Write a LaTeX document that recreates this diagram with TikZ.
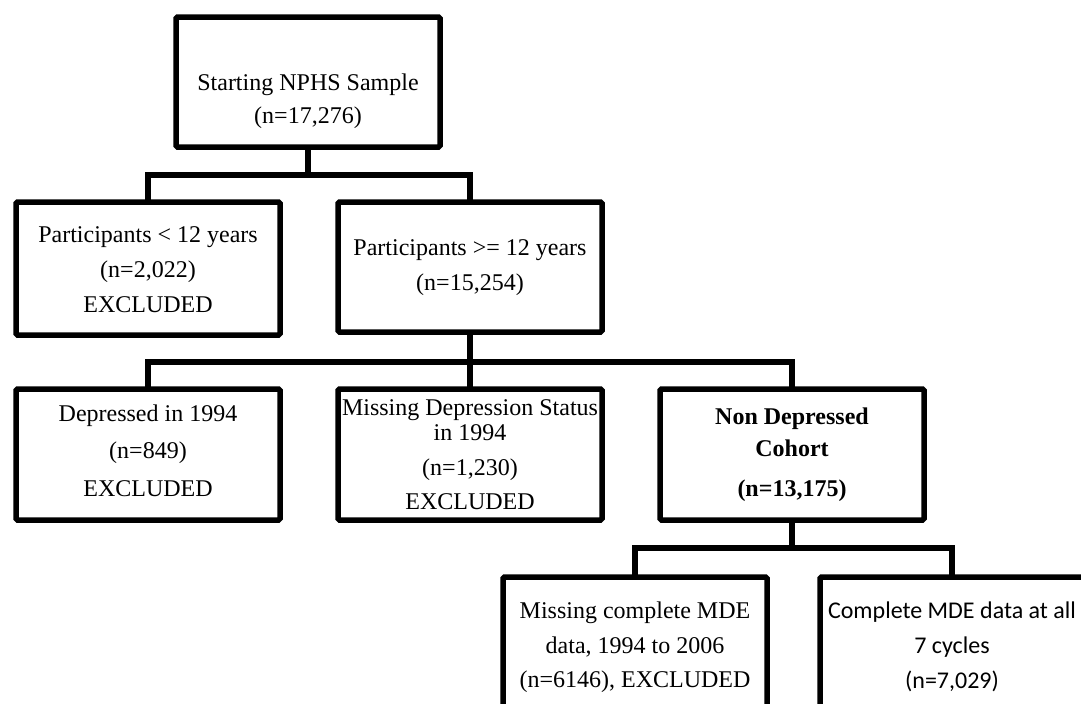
\documentclass[tikz,border=0pt]{standalone}
\usepackage{fontspec}
\setmainfont{Liberation Serif}
\newfontfamily\cohortsans{Carlito}
\usepackage{tikz}

\tikzset{
  box/.style={draw, line width=2.75pt, minimum width=132pt, inner sep=0pt, outer sep=0pt, rounded corners=0.8pt},
  txt/.style={align=center, anchor=base, inner sep=0pt, font=\fontsize{12}{17.5}\selectfont},
  conn/.style={line width=2.6pt},
}

\begin{document}
\begin{tikzpicture}[x=0.5pt, y=-0.5pt]
    % Canvas
    \clip (0,0) rectangle (1081,703);
    \fill[white] (0,0) rectangle (1081,703);

    % Boxes
    \node[box, minimum height=65pt] (start) at (308,82) {};
    \node[box, minimum height=66.5pt] (young) at (148,268.5) {};
    \node[box, minimum height=65pt] (old) at (470,267) {};
    \node[box, minimum height=65.5pt] (depr) at (148,454.5) {};
    \node[box, minimum height=65.5pt] (miss) at (470,454.5) {};
    \node[box, minimum height=65.5pt] (cohort) at (792,454.5) {};
    \node[box, minimum height=80pt] (mde) at (635,657) {};
    \node[box, minimum height=80pt] (full) at (952,657) {};

    % Texts (placed by the baseline of their last line)
    \node[txt] (start-t) at (308,123) {Starting NPHS Sample\\[-1pt](n=17,276)};
    \node[txt] (young-t) at (148,312) {Participants < 12 years\\(n=2,022)\\EXCLUDED};
    \node[txt] (old-t) at (470,290) {Participants >= 12 years\\(n=15,254)};
    \node[txt] (depr-t) at (148,496) {Depressed in 1994\\[1.25pt](n=849)\\[1.25pt]EXCLUDED};
    \node[txt] (miss-t) at (470,509) {Missing Depression Status\\[-5pt]in 1994\\(n=1,230)\\[-0.5pt]EXCLUDED};
    \node[txt, font=\fontsize{12}{17.5}\selectfont\bfseries] (cohort-t) at (792,496) {Non Depressed\\[-1.5pt]Cohort\\[2.5pt](n=13,175)};
    \node[txt] (mde-t) at (635,687) {Missing complete MDE\\data, 1994 to 2006\\[-0.5pt](n=6146), EXCLUDED};
    \node[txt, font=\fontsize{12}{17.5}\cohortsans] (full-t) at (952,688) {Complete MDE data at all\\7 cycles\\(n=7,029)};

    % Connectors
    \draw[conn] (start.south) -- ++(0,28) -| (young.north);
    \draw[conn] (start.south) -- ++(0,28) -| (old.north);
    \draw[conn] (old.south) -- ++(0,30) -| (depr.north);
    \draw[conn] (old.south) -- ++(0,30) -| (miss.north);
    \draw[conn] (old.south) -- ++(0,30) -| (cohort.north);
    \draw[conn] (cohort.south) -- ++(0,28) -| (mde.north);
    \draw[conn] (cohort.south) -- ++(0,28) -| (full.north);
\end{tikzpicture}
\end{document}
